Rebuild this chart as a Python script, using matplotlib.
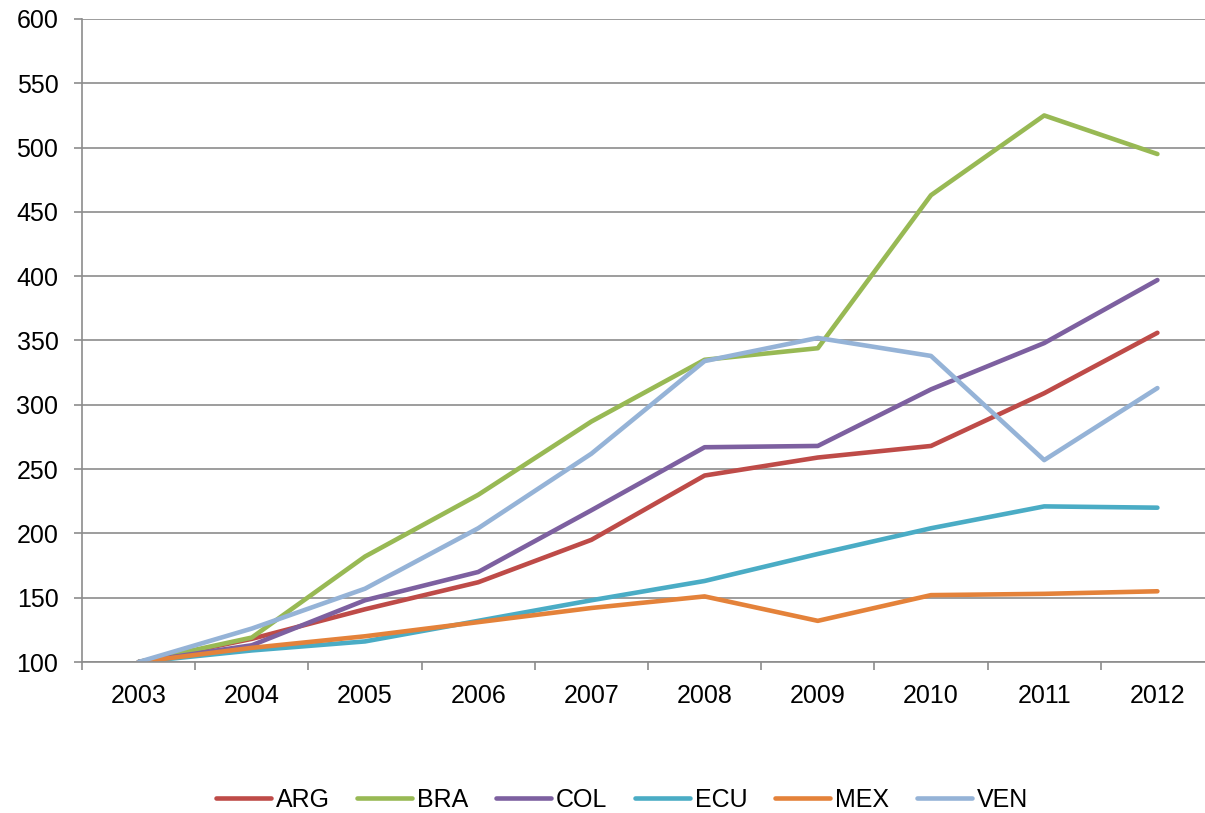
import matplotlib
matplotlib.use('Agg')
import matplotlib.pyplot as plt
from matplotlib.ticker import FixedLocator

years = ['2003', '2004', '2005', '2006', '2007', '2008', '2009', '2010', '2011', '2012']

arg = [100, 118, 141, 162, 195, 245, 259, 268, 309, 356]
bra = [100, 119, 182, 230, 287, 335, 344, 463, 525, 495]
col = [100, 113, 148, 170, 218, 267, 268, 312, 348, 397]
ecu = [100, 109, 116, 132, 148, 163, 184, 204, 221, 220]
mex = [100, 111, 120, 131, 142, 151, 132, 152, 153, 155]
ven = [100, 126, 157, 204, 262, 334, 352, 338, 257, 313]

names = ['ARG', 'BRA', 'COL', 'ECU', 'MEX', 'VEN']
series = [arg, bra, col, ecu, mex, ven]
colors = ['#BE4B48', '#98B954', '#7D60A0', '#4AACC5', '#E4823A', '#95B3D7']

plt.rcParams['font.family'] = ['Liberation Sans', 'DejaVu Sans']

fig = plt.figure(figsize=(12.05, 8.13), dpi=100)
ax = fig.add_axes([82 / 1205, 1 - 662 / 813, 1132 / 1205, 643 / 813])

x = list(range(len(years)))
for name, vals, c in zip(names, series, colors):
    ax.plot(x, vals, color=c, lw=3.3, label=name,
            solid_capstyle='round', solid_joinstyle='round')

grid_c = '#8C8C8C'
ax.set_ylim(100, 600)
ax.set_xlim(-0.5, len(years) - 0.5)
ax.set_yticks(range(100, 601, 50))
ax.yaxis.grid(True, color=grid_c, lw=1.2)
ax.set_axisbelow(True)

ax.set_xticks(x)
ax.set_xticklabels(years)
ax.xaxis.set_minor_locator(FixedLocator([i - 0.5 for i in range(len(years) + 1)]))
ax.tick_params(axis='x', which='major', length=0, pad=16, labelsize=18)
ax.tick_params(axis='x', which='minor', length=6, width=1.2, color=grid_c, direction='out')
ax.tick_params(axis='y', length=6, width=1.2, color=grid_c, pad=11, labelsize=18)

for s in ['top', 'right']:
    ax.spines[s].set_visible(False)
for s in ['left', 'bottom']:
    ax.spines[s].set_color(grid_c)
    ax.spines[s].set_linewidth(1.2)

fig.legend(loc='center', bbox_to_anchor=(0.516, 1 - 800 / 813), ncol=6,
           frameon=False, fontsize=18, handlelength=2.2, handletextpad=0.2,
           columnspacing=1.1)

fig.savefig('out.png', dpi=100)
